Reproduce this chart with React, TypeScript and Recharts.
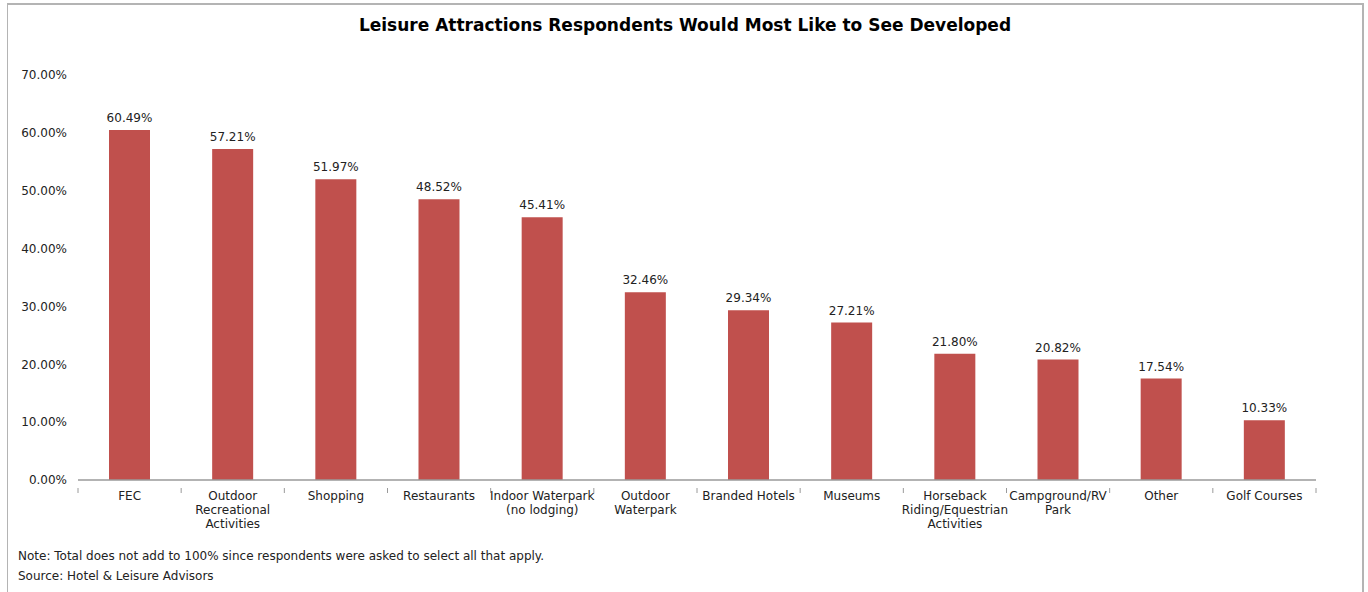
import React from 'react';
import { BarChart, Bar, XAxis, YAxis, LabelList } from 'recharts';

const categories = [
  'FEC',
  'Outdoor\nRecreational\nActivities',
  'Shopping',
  'Restaurants',
  'Indoor Waterpark\n(no lodging)',
  'Outdoor\nWaterpark',
  'Branded Hotels',
  'Museums',
  'Horseback\nRiding/Equestrian\nActivities',
  'Campground/RV\nPark',
  'Other',
  'Golf Courses',
];
const shares = [60.49, 57.21, 51.97, 48.52, 45.41, 32.46, 29.34, 27.21, 21.8, 20.82, 17.54, 10.33];
const yTicks = [0, 10, 20, 30, 40, 50, 60, 70];

const title = 'Leisure Attractions Respondents Would Most Like to See Developed';
const note = 'Note: Total does not add to 100% since respondents were asked to select all that apply.';
const source = 'Source: Hotel & Leisure Advisors';

const data = categories.map((name, i) => ({ name, value: shares[i] }));

const FONT = '"DejaVu Sans", Verdana, sans-serif';
const TEXT = '#222';
const AXIS = '#9a9a9a';

const CategoryTick = (props: any) => {
  const { x, y, payload, width, visibleTicksCount, index } = props;
  const half = width / visibleTicksCount / 2;
  const lines = String(payload.value).split('\n');
  const last = index === visibleTicksCount - 1;
  return (
    <g>
      <line x1={x - half} x2={x - half} y1={y} y2={y + 5} stroke={AXIS} />
      {last && <line x1={x + half} x2={x + half} y1={y} y2={y + 5} stroke={AXIS} />}
      <text x={x} y={y + 12} textAnchor="middle" fontSize={12} fontFamily={FONT} fill={TEXT}>
        {lines.map((l, i) => (
          <tspan key={i} x={x} dy={i === 0 ? 0 : 14}>
            {l}
          </tspan>
        ))}
      </text>
    </g>
  );
};

export default function App() {
  return (
    <div style={{ position: 'absolute', left: 0, top: 0, width: 1368, height: 592, background: '#fff', overflow: 'hidden' }}>
      <div
        style={{
          position: 'absolute',
          left: 7,
          top: 3,
          width: 1354,
          height: 620,
          border: '1px solid #b4b4b4',
          borderRightWidth: 2,
          borderTopWidth: 2,
        }}
      />
      <div
        style={{
          position: 'absolute',
          left: 0,
          top: 15,
          width: 1370,
          textAlign: 'center',
          fontFamily: FONT,
          fontWeight: 'bold',
          fontSize: 17,
          color: '#000',
        }}
      >
        {title}
      </div>
      <div style={{ position: 'absolute', left: 0, top: 0 }}>
        <BarChart width={1368} height={592} data={data} margin={{ top: 75, right: 52, bottom: 52, left: 0 }}>
          <YAxis
            width={78}
            domain={[0, 70]}
            ticks={yTicks}
            axisLine={false}
            tickLine={false}
            tickSize={0}
            tickMargin={11}
            tickFormatter={(v: number) => `${v.toFixed(2)}%`}
            tick={{ fontSize: 12, fontFamily: FONT, fill: TEXT }}
          />
          <XAxis
            dataKey="name"
            height={60}
            axisLine={{ stroke: AXIS, strokeWidth: 1.5 }}
            tickLine={false}
            interval={0}
            tick={<CategoryTick />}
          />
          <Bar dataKey="value" fill="#C0504D" barSize={41} isAnimationActive={false}>
            <LabelList
              dataKey="value"
              position="top"
              offset={8}
              formatter={(v: any) => `${Number(v).toFixed(2)}%`}
              style={{ fontSize: 12, fontFamily: FONT, fill: TEXT }}
            />
          </Bar>
        </BarChart>
      </div>
      <div style={{ position: 'absolute', left: 18, top: 549, fontFamily: FONT, fontSize: 12, color: TEXT }}>{note}</div>
      <div style={{ position: 'absolute', left: 18, top: 569, fontFamily: FONT, fontSize: 12, color: TEXT }}>{source}</div>
    </div>
  );
}
